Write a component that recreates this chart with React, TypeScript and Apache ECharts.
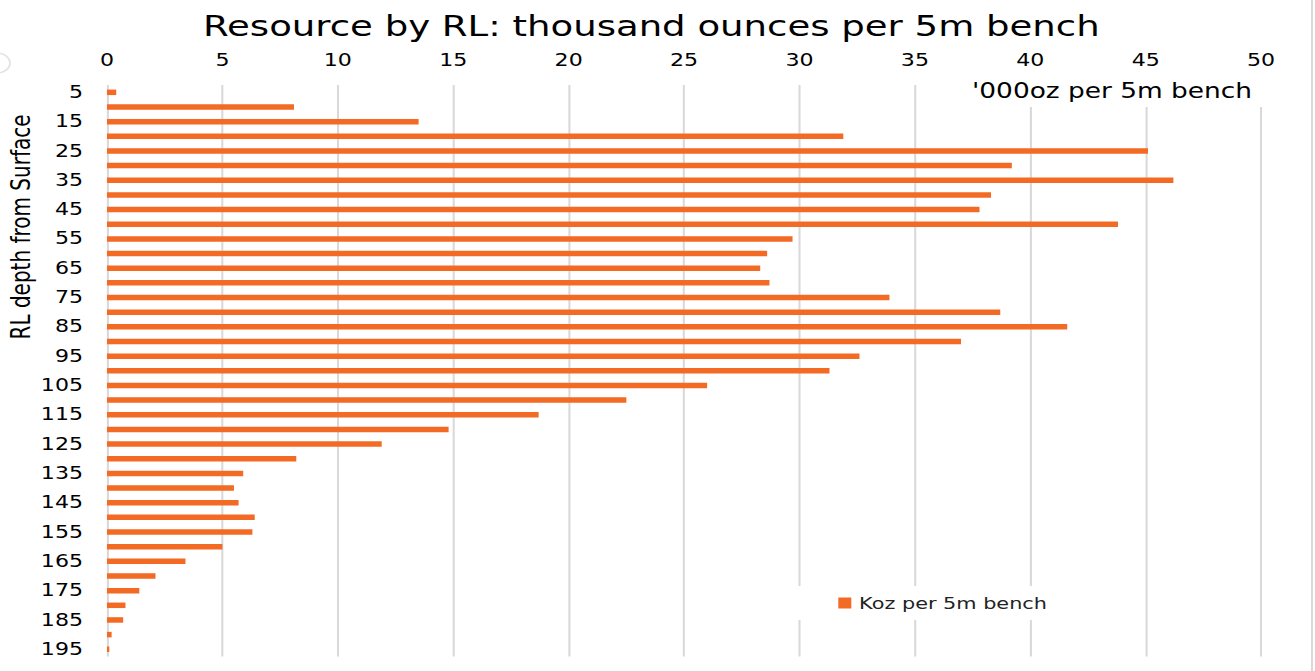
import React, { useEffect, useRef } from "react";
import * as echarts from "echarts";

// ---- data ----
const depths = [
  "5", "10", "15", "20", "25", "30", "35", "40", "45", "50",
  "55", "60", "65", "70", "75", "80", "85", "90", "95", "100",
  "105", "110", "115", "120", "125", "130", "135", "140", "145", "150",
  "155", "160", "165", "170", "175", "180", "185", "190", "195",
];
const kozPerBench = [
  0.4, 8.1, 13.5, 31.9, 45.1, 39.2, 46.2, 38.3, 37.8, 43.8,
  29.7, 28.6, 28.3, 28.7, 33.9, 38.7, 41.6, 37.0, 32.6, 31.3,
  26.0, 22.5, 18.7, 14.8, 11.9, 8.2, 5.9, 5.5, 5.7, 6.4,
  6.3, 5.0, 3.4, 2.1, 1.4, 0.8, 0.7, 0.2, 0.1,
];
const titleText = "Resource by RL: thousand ounces per 5m bench";
const xAxisName = "'000oz per 5m bench";
const yAxisName = "RL depth from Surface";
const seriesName = "Koz per 5m bench";

// ---- layout (reference is horizontally stretched) ----
const S = 1.3;
const FULL_W = 1315;
const H = 671;
const W = FULL_W / S;
const px = (v: number) => v / S; // reference x pixel -> unscaled

const FONT = "'DejaVu Sans', Verdana, sans-serif";
const ORANGE = "#F36A24";
const GRID = "#D9D9D9";

export default function App() {
  const ref = useRef<HTMLDivElement>(null);

  useEffect(() => {
    if (!ref.current) return;
    const chart = echarts.init(ref.current, undefined, { renderer: "svg" });
    chart.setOption({
      animation: false,
      backgroundColor: "#fff",
      textStyle: { fontFamily: FONT },
      title: {
        text: titleText,
        left: px(203) - 5,
        top: 7,
        textStyle: { fontFamily: FONT, fontSize: 28.5, fontWeight: "normal", color: "#000" },
      },
      grid: {
        left: px(107),
        right: W - px(1260.5),
        top: 85,
        bottom: H - 656.6,
        containLabel: false,
      },
      legend: {
        data: [seriesName],
        left: px(798),
        top: 586,
        backgroundColor: "#fff",
        padding: [9, 30, 9, 31],
        icon: "rect",
        itemWidth: 10,
        itemHeight: 11,
        textStyle: { fontFamily: FONT, fontSize: 16, color: "#222", padding: [0, 0, 0, 1] },
      },
      xAxis: {
        type: "value",
        position: "top",
        min: 0,
        max: 50,
        interval: 5,
        axisLine: { show: false },
        axisTick: { show: false },
        axisLabel: { fontFamily: FONT, fontSize: 17, color: "#000", margin: 16 },
        splitLine: { show: true, lineStyle: { color: GRID, width: 1.6 } },
      },
      yAxis: {
        type: "category",
        inverse: true,
        data: depths,
        axisLine: { show: false },
        axisTick: { show: false },
        axisLabel: {
          interval: 1,
          fontFamily: FONT,
          fontSize: 17,
          color: "#000",
          margin: px(24),
        },
      },
      series: [
        {
          name: seriesName,
          type: "bar",
          data: kozPerBench,
          barWidth: 5.5,
          itemStyle: { color: ORANGE },
        },
      ],
      graphic: [
        {
          type: "text",
          z: 100,
          x: px(1252) + 10,
          y: 91,
          style: {
            text: xAxisName,
            fontFamily: FONT,
            fontSize: 20.3,
            fill: "#000",
            align: "right",
            verticalAlign: "middle",
            backgroundColor: "#fff",
            padding: [8, 10, 4, 6],
          },
        },
        {
          type: "text",
          z: 100,
          x: 16,
          y: 227,
          rotation: Math.PI / 2,
          style: {
            text: yAxisName,
            fontFamily: FONT,
            fontSize: 20,
            fill: "#000",
            align: "center",
            verticalAlign: "middle",
          },
        },
        {
          type: "line",
          z: 100,
          shape: { x1: px(1312), y1: 0, x2: px(1312), y2: H },
          style: { stroke: GRID, lineWidth: 1.5 },
        },
        {
          type: "arc",
          z: 100,
          shape: { cx: px(-3), cy: 63, r: 10, startAngle: -Math.PI / 2, endAngle: Math.PI / 2 },
          style: { stroke: "#E3E3E3", lineWidth: 1.5, fill: "none" },
        },
      ],
    });
    return () => chart.dispose();
  }, []);

  return (
    <div
      ref={ref}
      style={{
        position: "fixed",
        left: 0,
        top: 0,
        width: W,
        height: H,
        transform: `scaleX(${S})`,
        transformOrigin: "0 0",
        background: "#fff",
      }}
    />
  );
}
